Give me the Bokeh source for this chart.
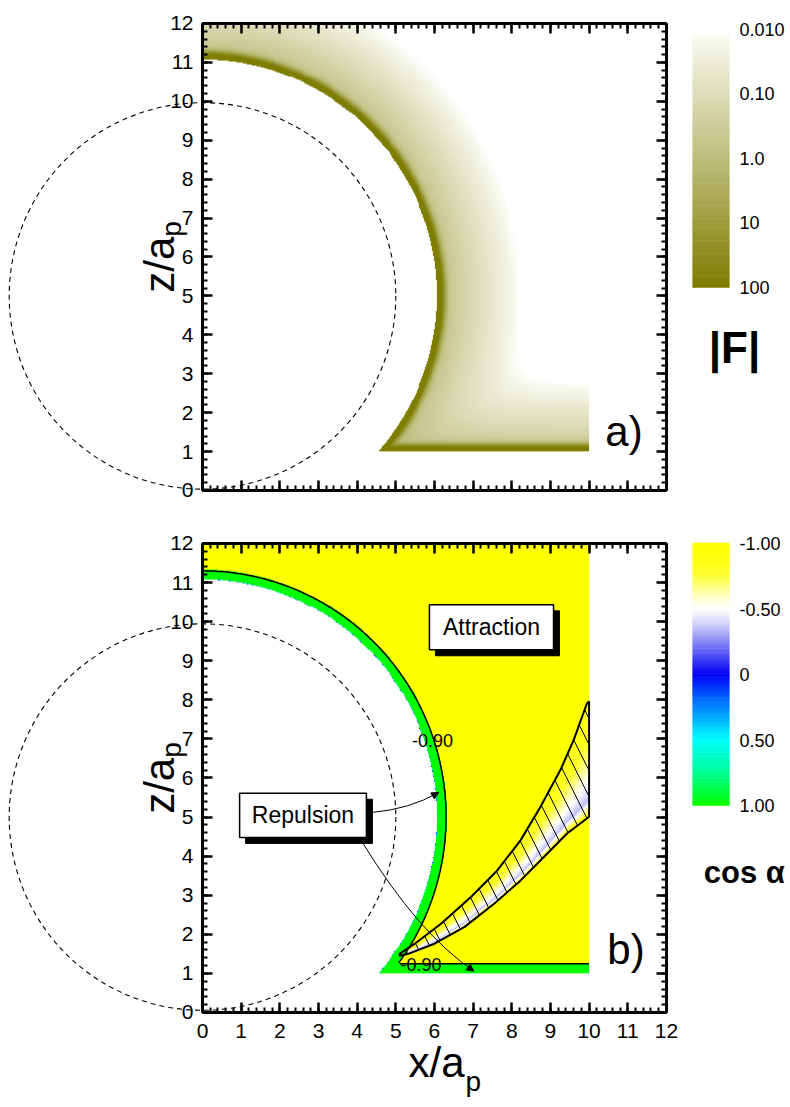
import numpy as np
from bokeh.plotting import figure
from bokeh.models import (Range1d, LinearAxis, SingleIntervalTicker, FixedTicker,
                          LinearColorMapper, LogColorMapper, Label, Arrow, NormalHead,
                          ColumnDataSource)
from bokeh.transform import linear_cmap
from bokeh.layouts import row, column
from bokeh.embed import file_html
from bokeh.resources import INLINE

FONT = "Liberation Sans"

# ---- geometry (lengths in units of a_p) ----
particle_x, particle_z = 0.0, 5.0
particle_r = 5.0
contact_r = 6.05          # closest approach of the probe centre to the particle
wall_z = 1.0              # closest approach to the wall
x_max = 10.0
z_top = 12.0

# ---- |F| model parameters ----
core_amp = 100.0
core_width_particle = 0.15
core_width_wall = 0.13
tail_amp_particle = 0.8
tail_len_particle = 0.5
tail_amp_wall = 0.5
tail_len_wall = 0.45

# ---- cos(alpha) model parameters ----
repulsive_shell = 0.25    # repulsive layer around the particle
repulsive_wall = 0.25     # repulsive layer above the wall
rim_width = 0.015

# -0.90 contour that bounds the weakly attractive wedge
wedge_upper_x = [5.10, 5.49, 6.17, 6.95, 7.63, 8.23, 8.74, 9.26, 9.60, 9.94, 10.0]
wedge_upper_z = [1.50, 1.76, 2.27, 2.96, 3.64, 4.41, 5.26, 6.21, 6.97, 7.90, 7.96]
wedge_lower_x = [5.10, 5.32, 6.00, 6.78, 7.55, 8.23, 8.83, 9.43, 10.0]
wedge_lower_z = [1.45, 1.50, 1.76, 2.19, 2.79, 3.38, 3.98, 4.58, 5.01]

# ---- colour-bar ticks ----
force_tick_exp = [-2, -1, 0, 1, 2]
force_tick_labels = ["0.010", "0.10", "1.0", "10", "100"]
cos_ticks = [-1.0, -0.5, 0.0, 0.5, 1.0]
cos_tick_labels = ["-1.00", "-0.50", "0", "0.50", "1.00"]
contour_label = "-0.90"


def blend(stops, n=256):
    pos = np.array([s[0] for s in stops], float)
    rgb = np.array([s[1] for s in stops], float)
    q = np.linspace(pos[0], pos[-1], n)
    chans = [np.interp(q, pos, rgb[:, k]) for k in range(3)]
    return ["#%02x%02x%02x" % tuple(int(round(c[i])) for c in chans) for i in range(n)]


olive_palette = blend([(0.0, (255, 255, 255)), (0.05, (246, 246, 234)), (1.0, (125, 125, 0))])
cos_palette = blend([(-1.0, (255, 255, 0)), (-0.78, (255, 255, 40)), (-0.56, (255, 255, 225)),
                     (-0.5, (255, 255, 255)), (-0.4, (215, 215, 250)), (-0.2, (110, 110, 245)),
                     (0.0, (0, 0, 245)), (0.2, (0, 110, 255)), (0.5, (0, 255, 255)),
                     (0.75, (0, 255, 150)), (1.0, (0, 255, 0))])

# ---- fields on a regular grid ----
nx, nz = 400, 480
xc = (np.arange(nx) + 0.5) * x_max / nx
zc = (np.arange(nz) + 0.5) * z_top / nz
X, Z = np.meshgrid(xc, zc)
R = np.hypot(X - particle_x, Z - particle_z)
dp = R - contact_r
dw = Z - wall_z
domain = (dp >= 0) & (dw >= 0)


def shell(d, w):
    return 1.0 / (1.0 + (np.clip(d, 0, None) / w) ** 8)


force = (core_amp * shell(dp, core_width_particle) + tail_amp_particle * np.exp(-dp / tail_len_particle)
         + core_amp * shell(dw, core_width_wall) + tail_amp_wall * np.exp(-dw / tail_len_wall))
force = np.where(domain, force, np.nan).astype(np.float32)

zu = np.interp(X, wedge_upper_x, wedge_upper_z)
zl = np.interp(X, wedge_lower_x, wedge_lower_z)
t = (zu - Z) / np.maximum(zu - zl, 1e-6)
in_wedge = (X >= wedge_upper_x[0]) & (t >= 0) & (t <= 1)
profile = np.where(t < 0.85, -0.9 + 0.55 * (np.clip(t, 0, 1) / 0.85) ** 1.6,
                   -0.35 - 0.55 * (t - 0.85) / 0.15)
cosa = np.full(X.shape, -1.0)
cosa = np.where(in_wedge, profile, cosa)
cosa = np.where(dw < repulsive_wall, 1.0, cosa)
cosa = np.where(dp < repulsive_shell, np.clip(dp / rim_width, 0, 1), cosa)
cosa = np.where(domain, cosa, np.nan).astype(np.float32)


def axis(show_labels, loc, standoff=9):
    ax = LinearAxis(ticker=SingleIntervalTicker(interval=1, num_minor_ticks=5), bounds=(0, 12),
                    fixed_location=loc)
    ax.axis_line_width = 3
    ax.axis_line_color = "black"
    ax.major_tick_line_width = 2.5
    ax.minor_tick_line_width = 2
    ax.major_tick_in = 10
    ax.major_tick_out = 0
    ax.minor_tick_in = 5
    ax.minor_tick_out = 0
    ax.major_label_text_font = FONT
    ax.major_label_standoff = standoff
    if show_labels:
        ax.major_label_text_color = "black"
        ax.major_label_text_font_size = "21px"
    else:
        ax.major_label_text_color = None
        ax.major_label_text_alpha = 0
        ax.major_label_text_font_size = "1px"
    return ax


# frames fill the whole figure; the axes sit at fixed data positions inside them
X_RANGE = (-5.225, 12.571)


def panel(height, y_lo, y_hi, show_x_labels):
    p = figure(width=688, height=height, x_range=Range1d(*X_RANGE), y_range=Range1d(y_lo, y_hi),
               x_axis_location=None, y_axis_location=None, output_backend="svg",
               toolbar_location=None, min_border=0)
    p.outline_line_color = None
    p.grid.visible = False
    p.add_layout(axis(True, 0), "left")
    p.add_layout(axis(False, 12), "right")
    p.add_layout(axis(False, 12), "above")
    p.add_layout(axis(show_x_labels, 0, standoff=12), "below")
    return p


def text(p, x, y, s, size, **kw):
    p.add_layout(Label(x=x, y=y, text=s, text_font=FONT, text_font_size=size,
                       text_color="black", **kw))


def dashed_particle(p):
    p.circle(x=[particle_x], y=[particle_z], radius=particle_r, fill_color=None,
             line_color="black", line_width=1.1, line_dash="5 4")


def ylabel(p, zc_a, zc_p):
    text(p, -1.11, zc_a, "z/a", "42px", angle=np.pi / 2, text_align="center", text_baseline="middle")
    text(p, -0.80, zc_p, "p", "28px", angle=np.pi / 2, text_align="center", text_baseline="middle")


# ---------------- panel a: |F| ----------------
fa = panel(517, -0.694, 12.591, False)
fa.image(image=[force], x=0, y=0, dw=x_max, dh=z_top,
         color_mapper=LogColorMapper(palette=olive_palette, low=0.01, high=100, low_color="white",
                                     nan_color=(255, 255, 255, 0)))
dashed_particle(fa)
ylabel(fa, 5.80, 6.72)
text(fa, 10.42, 0.9, "a)", "42px")

# ---------------- panel b: cos(alpha) ----------------
fb = panel(590, -2.431, 12.665, True)
fb.image(image=[cosa], x=0, y=0, dw=x_max, dh=z_top,
         color_mapper=LinearColorMapper(palette=cos_palette, low=-1, high=1,
                                        nan_color=(255, 255, 255, 0)))
# -0.90 contours
rr = contact_r + repulsive_shell
theta = np.linspace(np.arcsin((1.27 - particle_z) / rr), np.pi / 2, 200)
fb.line(x=particle_x + rr * np.cos(theta), y=particle_z + rr * np.sin(theta),
        line_color="black", line_width=1.5)
fb.line(x=[wedge_lower_x[0], x_max], y=[wall_z + repulsive_wall] * 2, line_color="black", line_width=1.5)
wx = wedge_upper_x + [x_max] + wedge_lower_x[::-1]
wz = wedge_upper_z + [wedge_lower_z[-1]] + wedge_lower_z[::-1]
fb.patch(x=wx, y=wz, fill_color=None, line_color="black", line_width=2,
         hatch_pattern="\\", hatch_color="black", hatch_weight=1, hatch_scale=26)
dashed_particle(fb)
for (lx, lz) in [(5.95, 6.96), (5.65, 1.23)]:
    text(fb, lx, lz, contour_label, "18px", text_align="center", text_baseline="middle")

# annotation boxes with drop shadows
sx, sz = 0.155, 0.153
for (l, r, tp, bt, txt) in [(5.87, 9.08, 10.43, 9.28, "Attraction"), (0.96, 4.24, 5.61, 4.48, "Repulsion")]:
    fb.quad(left=l + sx, right=r + sx, top=tp - sz, bottom=bt - sz, fill_color="black", line_color="black")
    fb.quad(left=l, right=r, top=tp, bottom=bt, fill_color="white", line_color="black", line_width=1.5)
    text(fb, (l + r) / 2, (tp + bt) / 2, txt, "23px", text_align="center", text_baseline="middle")

# leader arrows
fb.quadratic(x0=4.39, y0=5.12, x1=6.11, y1=5.63, cx=5.35, cy=5.2, line_color="black", line_width=1)
fb.add_layout(Arrow(end=NormalHead(size=7, fill_color="black", line_color="black"),
                    x_start=5.97, y_start=5.55, x_end=6.11, y_end=5.63, line_width=1))
fb.quadratic(x0=4.13, y0=4.36, x1=7.02, y1=1.06, cx=5.6, cy=2.0, line_color="black", line_width=1)
fb.add_layout(Arrow(end=NormalHead(size=7, fill_color="black", line_color="black"),
                    x_start=6.88, y_start=1.154, x_end=7.02, y_end=1.06, line_width=1))

ylabel(fb, 5.80, 6.72)
text(fb, 10.47, 1.0, "b)", "42px")
text(fb, 5.33, -1.87, "x/a", "42px")
text(fb, 6.80, -2.15, "p", "28px")


# ---------------- colour bars ----------------
# the bar spans x = 0..1; its tick labels hang off an axis fixed at x = 1
def colorbar(height, y_range, values, palette, lo, hi, ticks, labels):
    c = figure(width=102, height=height, x_range=Range1d(-0.108, 2.649), y_range=y_range,
               x_axis_location=None, y_axis_location=None, output_backend="svg",
               toolbar_location=None, min_border=0)
    c.outline_line_color = None
    c.grid.visible = False
    step = values[1] - values[0]
    src = ColumnDataSource(dict(v=values, b=values - step / 2, t=np.minimum(values + step, hi)))
    c.quad(left=0, right=1, bottom="b", top="t", source=src,
           fill_color=linear_cmap("v", palette, lo, hi), line_color=None)
    ax = LinearAxis(ticker=FixedTicker(ticks=ticks), fixed_location=1,
                    major_label_overrides={k: s for k, s in zip(ticks, labels)})
    ax.axis_line_color = None
    ax.major_tick_line_color = None
    ax.minor_tick_line_color = None
    ax.major_tick_in = 0
    ax.major_tick_out = 0
    ax.major_label_standoff = 10
    ax.major_label_text_font = FONT
    ax.major_label_text_font_size = "18px"
    ax.major_label_text_color = "black"
    c.add_layout(ax, "right")
    return c


ca = colorbar(517, Range1d(5.566, -2.4496), np.linspace(-2, 2, 200), olive_palette, -2, 2,
              force_tick_exp, force_tick_labels)
text(ca, 1.135, 2.93, "|F|", "44px", text_align="center", text_baseline="middle",
     text_font_style="bold")

cb = colorbar(590, Range1d(3.305, -1.1985), np.linspace(-1, 1, 200), cos_palette, -1, 1,
              cos_ticks, cos_tick_labels)
text(cb, 1.40, 1.51, "cos α", "31px", text_align="center", text_baseline="middle",
     text_font_style="bold")

layout = column(row(fa, ca), row(fb, cb))
open("out.html", "w").write(file_html(layout, INLINE))
